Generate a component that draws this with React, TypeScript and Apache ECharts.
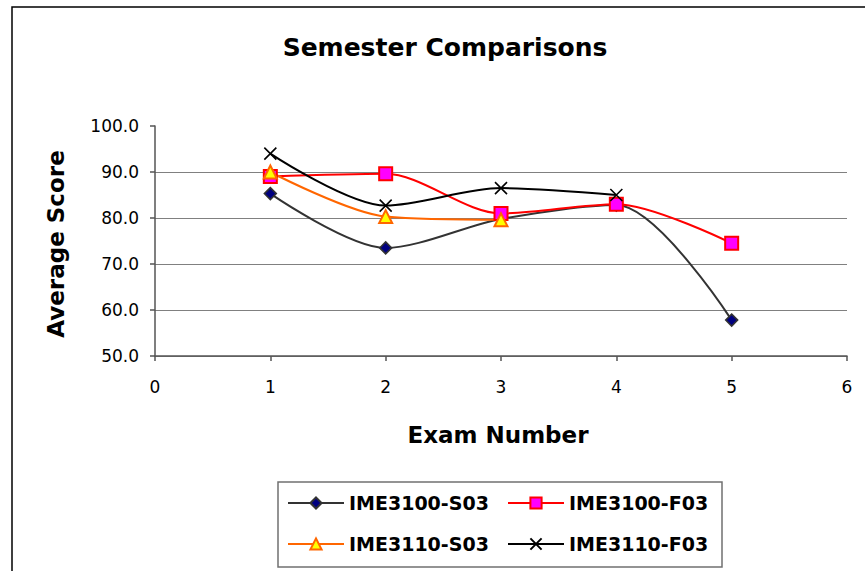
import React, { useEffect, useRef } from "react";
import * as echarts from "echarts";

const examNumbers = [1, 2, 3, 4, 5];
const ime3100S03 = [85.3, 73.5, 79.8, 82.8, 57.8];
const ime3100F03 = [89.0, 89.6, 81.0, 83.0, 74.5];
const ime3110S03 = [90.0, 80.3, 79.6];
const ime3110F03 = [94.0, 82.7, 86.5, 85.0];
const seriesNames = ["IME3100-S03", "IME3100-F03", "IME3110-S03", "IME3110-F03"];
const yTicks = [50, 60, 70, 80, 90, 100];

const FONT = "DejaVu Sans";
const SMOOTH = 0.3;

function pairs(values: number[]) {
  return values.map((v, i) => [examNumbers[i], v]);
}

export default function App() {
  const ref = useRef<HTMLDivElement>(null);
  useEffect(() => {
    if (!ref.current) return;
    const chart = echarts.init(ref.current, undefined, { renderer: "svg" });
    const legendBase = {
      itemWidth: 56,
      itemHeight: 14,
      padding: 0,
      selectedMode: false,
      textStyle: { fontFamily: FONT, fontSize: 19, fontWeight: "bold", color: "#000", lineHeight: 20 },
    };
    chart.setOption({
      animation: false,
      backgroundColor: "#fff",
      grid: { left: 155, right: 18, top: 126, bottom: 215, containLabel: false },
      xAxis: {
        type: "value",
        min: 0,
        max: 6,
        interval: 1,
        axisLine: { show: true, lineStyle: { color: "#555", width: 1.5 } },
        axisTick: { show: true, length: 5, lineStyle: { color: "#555", width: 1.5 } },
        axisLabel: { fontFamily: FONT, fontSize: 17, color: "#000", margin: 22 },
        splitLine: { show: false },
      },
      yAxis: {
        type: "value",
        min: yTicks[0],
        max: yTicks[yTicks.length - 1],
        interval: 10,
        axisLine: { show: true, lineStyle: { color: "#555", width: 1.5 } },
        axisTick: { show: true, length: 5, lineStyle: { color: "#555", width: 1.5 } },
        axisLabel: {
          fontFamily: FONT,
          fontSize: 17,
          color: "#000",
          margin: 16,
          formatter: (v: number) => v.toFixed(1),
        },
        splitLine: {
          show: true,
          lineStyle: {
            color: ["#808080", "#808080", "#808080", "#808080", "#808080", "rgba(0,0,0,0)"],
            width: 1.2,
          },
        },
      },
      legend: [
        { ...legendBase, data: [seriesNames[0]], left: 287, top: 493 },
        { ...legendBase, data: [seriesNames[1]], left: 507, top: 493 },
        { ...legendBase, data: [seriesNames[2]], left: 287, top: 534 },
        { ...legendBase, data: [seriesNames[3]], left: 507, top: 534 },
      ],
      graphic: [
        {
          type: "rect",
          shape: { x: 12, y: 7, width: 900, height: 620 },
          style: { fill: "none", stroke: "#000", lineWidth: 1.5 },
          silent: true,
        },
        {
          type: "rect",
          shape: { x: 278, y: 482, width: 444, height: 85 },
          style: { fill: "none", stroke: "#707070", lineWidth: 1.5 },
          silent: true,
        },
        {
          type: "text",
          x: 445,
          y: 47,
          style: {
            text: "Semester Comparisons",
            fontFamily: FONT,
            fontSize: 25,
            fontWeight: "bold",
            fill: "#000",
            textAlign: "center",
            textVerticalAlign: "middle",
          },
        },
        {
          type: "text",
          x: 56,
          y: 244,
          rotation: Math.PI / 2,
          style: {
            text: "Average Score",
            fontFamily: FONT,
            fontSize: 23,
            fontWeight: "bold",
            fill: "#000",
            textAlign: "center",
            textVerticalAlign: "middle",
          },
        },
        {
          type: "text",
          x: 498,
          y: 435,
          style: {
            text: "Exam Number",
            fontFamily: FONT,
            fontSize: 23,
            fontWeight: "bold",
            fill: "#000",
            textAlign: "center",
            textVerticalAlign: "middle",
          },
        },
      ],
      series: [
        {
          name: seriesNames[0],
          type: "line",
          smooth: SMOOTH,
          data: pairs(ime3100S03),
          symbol: "diamond",
          symbolSize: 12,
          lineStyle: { color: "#333333", width: 2 },
          itemStyle: { color: "#000080", borderColor: "#333333", borderWidth: 1.5 },
        },
        {
          name: seriesNames[1],
          type: "line",
          smooth: SMOOTH,
          data: pairs(ime3100F03),
          symbol: "rect",
          symbolSize: 13,
          lineStyle: { color: "#FF0000", width: 2 },
          itemStyle: { color: "#FF00FF", borderColor: "#FF0000", borderWidth: 2 },
        },
        {
          name: seriesNames[2],
          type: "line",
          smooth: SMOOTH,
          data: pairs(ime3110S03),
          symbol: "triangle",
          symbolSize: 13,
          lineStyle: { color: "#FF6600", width: 2 },
          itemStyle: { color: "#FFFF00", borderColor: "#FF6600", borderWidth: 2 },
        },
        {
          name: seriesNames[3],
          type: "line",
          smooth: SMOOTH,
          data: pairs(ime3110F03),
          symbol: "path://M0,0L10,10M10,0L0,10",
          symbolSize: 12,
          lineStyle: { color: "#000000", width: 2 },
          itemStyle: { color: "#000000", borderColor: "#000000", borderWidth: 1.6 },
        },
      ],
    });
    return () => chart.dispose();
  }, []);
  return (
    <div
      ref={ref}
      style={{ position: "fixed", left: 0, top: 0, width: 865, height: 571, background: "#fff" }}
    />
  );
}
